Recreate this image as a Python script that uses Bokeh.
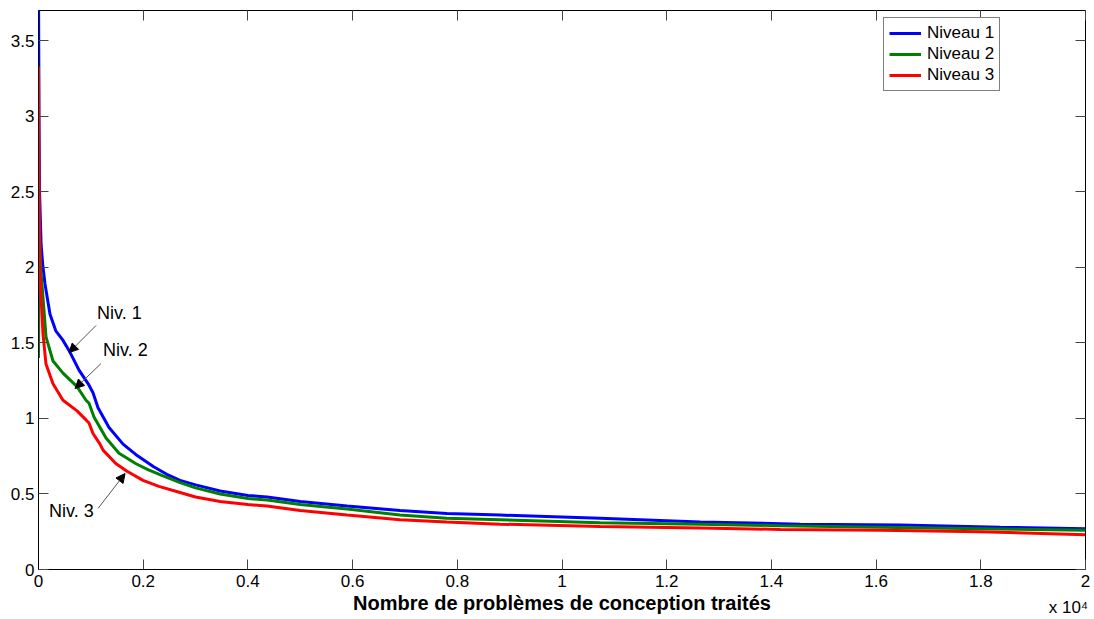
from bokeh.plotting import figure
from bokeh.models import (Range1d, FixedTicker, LinearAxis, Legend, LegendItem, Label, Arrow, NormalHead,
                          CustomLabelingPolicy)
from bokeh.embed import file_html
from bokeh.resources import INLINE

# ---- data ----
series_names = ["Niveau 1", "Niveau 2", "Niveau 3"]
series_colors = ["#0000ff", "#008000", "#ff0000"]

x_niv1 = [0, 10, 20, 50, 80, 124, 220, 330, 462, 583, 774, 965, 1041, 1137, 1347, 1615, 1863, 2200, 2450, 2704,
          3000, 3469, 4000, 4367, 5000, 5896, 6906, 7800, 8817, 10728, 12639, 14550, 16461, 18372, 20000]
y_niv1 = [3.9, 3.0, 2.5, 2.15, 2.02, 1.89, 1.69, 1.58, 1.52, 1.45, 1.32, 1.22, 1.17, 1.07, 0.94, 0.83, 0.76, 0.68, 0.63, 0.59,
          0.56, 0.52, 0.49, 0.48, 0.45, 0.42, 0.39, 0.37, 0.36, 0.34, 0.315, 0.30, 0.295, 0.28, 0.27]

x_niv2 = [0, 5, 15, 40, 86, 143, 277, 468, 736, 908, 965, 1060, 1290, 1538, 1863, 2100, 2379, 2704, 3000,
          3469, 4000, 4367, 4998, 5896, 6906, 7800, 8817, 10728, 12639, 14168, 16098, 17990, 20000]
y_niv2 = [1.40, 1.66, 2.30, 2.00, 1.80, 1.54, 1.38, 1.30, 1.21, 1.12, 1.10, 1.01, 0.87, 0.77, 0.70, 0.66, 0.62, 0.575, 0.54,
          0.50, 0.47, 0.46, 0.43, 0.40, 0.36, 0.34, 0.33, 0.31, 0.30, 0.29, 0.28, 0.27, 0.26]

x_niv3 = [0, 10, 25, 50, 86, 143, 277, 468, 736, 908, 965, 1041, 1175, 1233, 1481, 1691, 1997, 2300, 2704, 3000,
          3469, 4000, 4367, 4998, 5896, 6906, 7800, 8817, 10728, 12639, 14168, 16098, 17990, 20000]
y_niv3 = [3.33, 2.6, 2.0, 1.80, 1.56, 1.36, 1.23, 1.12, 1.05, 0.99, 0.97, 0.90, 0.83, 0.79, 0.70, 0.65, 0.59, 0.55, 0.51, 0.48,
          0.45, 0.43, 0.42, 0.39, 0.36, 0.33, 0.315, 0.30, 0.285, 0.275, 0.265, 0.26, 0.25, 0.23]

x_ticks = [0, 2000, 4000, 6000, 8000, 10000, 12000, 14000, 16000, 18000, 20000]
x_tick_labels = ["0", "0.2", "0.4", "0.6", "0.8", "1", "1.2", "1.4", "1.6", "1.8", "2"]
y_ticks = [0, 0.5, 1, 1.5, 2, 2.5, 3, 3.5]
y_tick_labels = ["0", "0.5", "1", "1.5", "2", "2.5", "3", "3.5"]

x_title = "Nombre de problèmes de conception traités"
x_exponent_text = "x 10\u2074"
x_exponent_pos = 19674

# annotations: (text, text_x, text_y, arrow_start_x, arrow_start_y, arrow_end_x, arrow_end_y)
annotations = [
    ("Niv. 1", 1118, 1.70, 1099, 1.615, 583, 1.436),
    ("Niv. 2", 1233, 1.455, 1194, 1.363, 698, 1.198),
    ("Niv. 3", 201, 0.39, 1137, 0.404, 1653, 0.635),
]

FONT = "Liberation Sans"

p = figure(width=1094, height=619,
           x_range=Range1d(0, 20000), y_range=Range1d(0, 3.7),
           output_backend="svg", toolbar_location=None,
           min_border_left=38, min_border_right=9, min_border_top=10, min_border_bottom=50)

p.xgrid.visible = False
p.ygrid.visible = False
p.outline_line_color = "black"
p.outline_line_width = 1
p.background_fill_color = "white"
p.border_fill_color = "white"

renderers = []
for xs, ys, c in zip([x_niv1, x_niv2, x_niv3], [y_niv1, y_niv2, y_niv3], series_colors):
    r = p.line(xs, ys, line_color=c, line_width=3)
    renderers.append(r)

# main axes
p.xaxis.ticker = FixedTicker(ticks=x_ticks)
p.xaxis.major_label_overrides = {t: l for t, l in zip(x_ticks, x_tick_labels)}
p.yaxis.ticker = FixedTicker(ticks=y_ticks)
p.yaxis.major_label_overrides = {t: l for t, l in zip(y_ticks, y_tick_labels)}
for ax in [p.xaxis[0], p.yaxis[0]]:
    ax.major_tick_in = 10
    ax.major_tick_out = 0
    ax.minor_tick_in = 0
    ax.minor_tick_out = 0
    ax.axis_line_color = "black"
    ax.major_tick_line_color = "#444444"
    ax.major_label_text_font = FONT
    ax.major_label_text_font_size = "17px"
    ax.major_label_text_color = "black"
p.xaxis.major_label_standoff = 5
p.yaxis.major_label_standoff = 4

p.xaxis.axis_label = x_title
p.xaxis.axis_label_text_font = FONT
p.xaxis.axis_label_text_font_size = "20px"
p.xaxis.axis_label_text_font_style = "bold"
p.xaxis.axis_label_text_color = "black"
p.xaxis.axis_label_standoff = 2

# box ticks on top and right (tick marks only, no labels)
top_ax = LinearAxis(ticker=FixedTicker(ticks=x_ticks), major_tick_in=10, major_tick_out=0,
                    minor_tick_in=0, minor_tick_out=0, axis_line_color=None,
                    major_tick_line_color="#444444", major_label_text_font_size="0px",
                    major_label_standoff=0,
                    major_label_policy=CustomLabelingPolicy(code="return []"))
right_ax = LinearAxis(ticker=FixedTicker(ticks=y_ticks), major_tick_in=10, major_tick_out=0,
                      minor_tick_in=0, minor_tick_out=0, axis_line_color=None,
                      major_tick_line_color="#444444", major_label_text_font_size="0px",
                      major_label_standoff=0,
                      major_label_policy=CustomLabelingPolicy(code="return []"))
p.add_layout(top_ax, "above")
p.add_layout(right_ax, "right")

# exponent note: a label-only axis stacked under the main x axis
exp_ax = LinearAxis(ticker=FixedTicker(ticks=[x_exponent_pos]),
                    major_label_overrides={x_exponent_pos: x_exponent_text},
                    major_tick_in=0, major_tick_out=0, minor_tick_in=0, minor_tick_out=0,
                    axis_line_color=None, major_tick_line_color=None,
                    major_label_text_font=FONT, major_label_text_font_size="17px",
                    major_label_text_color="black", major_label_standoff=-19)
p.add_layout(exp_ax, "below")

# legend
legend = Legend(items=[LegendItem(label=n, renderers=[r]) for n, r in zip(series_names, renderers)],
                location=(845, 478), padding=5, spacing=1, margin=0,
                glyph_width=32, glyph_height=20, label_height=20, label_standoff=6,
                label_text_font=FONT, label_text_font_size="17px", label_text_color="black",
                border_line_color="black", border_line_width=1,
                background_fill_color="white", background_fill_alpha=1.0)
p.add_layout(legend)

# annotations
for txt, tx, ty, sx, sy, ex, ey in annotations:
    p.add_layout(Arrow(end=NormalHead(size=9, fill_color="black", line_color="black"),
                       x_start=sx, y_start=sy, x_end=ex, y_end=ey,
                       line_color="#555555", line_width=1))
    p.add_layout(Label(x=tx, y=ty, text=txt, text_font=FONT, text_font_size="18px",
                       text_color="black", text_baseline="alphabetic", text_align="left"))

open("out.html", "w").write(file_html(p, INLINE))
